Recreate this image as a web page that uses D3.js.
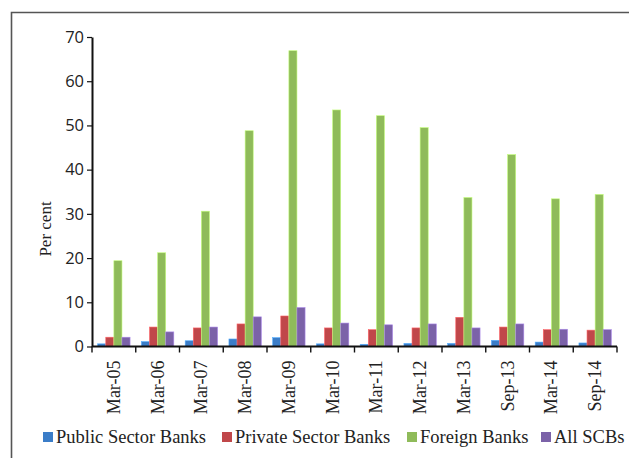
<!DOCTYPE html>
<html>
<head>
<meta charset="utf-8">
<script src="https://cdn.jsdelivr.net/npm/d3@7"></script>
<style>
  html, body { margin: 0; padding: 0; background: #fff; }
  svg { display: block; }
</style>
</head>
<body>
<svg id="chart" width="629" height="458"></svg>
<script>
// Gross NPA ratio by bank group (per cent)
const periods = ["Mar-05","Mar-06","Mar-07","Mar-08","Mar-09","Mar-10","Mar-11","Mar-12","Mar-13","Sep-13","Mar-14","Sep-14"];
const seriesNames = ["Public Sector Banks","Private Sector Banks","Foreign Banks","All SCBs"];
const publicSector  = [0.6, 1.1, 1.3, 1.7, 2.0, 0.6, 0.5, 0.7, 0.7, 1.4, 1.0, 0.8];
const privateSector = [2.1, 4.4, 4.2, 5.1, 6.9, 4.2, 3.8, 4.2, 6.6, 4.4, 3.8, 3.7];
const foreignBanks  = [19.4, 21.2, 30.6, 48.8, 66.9, 53.5, 52.2, 49.5, 33.7, 43.4, 33.4, 34.4];
const allSCBs       = [2.1, 3.3, 4.4, 6.7, 8.8, 5.3, 4.9, 5.1, 4.2, 5.1, 3.9, 3.8];
const yTicks = [0, 10, 20, 30, 40, 50, 60, 70];
const colors = ["#3b7dc8", "#c0474a", "#8fbb5a", "#7b62a8"];

const seriesValues = [publicSector, privateSector, foreignBanks, allSCBs];

const svg = d3.select("#chart");

// outer frame
svg.append("path")
  .attr("d", "M11.5,458 L11.5,12.5 L629,12.5")
  .attr("fill", "none")
  .attr("stroke", "#555")
  .attr("stroke-width", 1.6);

const plotLeft = 92, plotRight = 617, plotTop = 37, plotBottom = 346.5;

const x = d3.scaleBand().domain(periods).range([plotLeft, plotRight]).paddingInner(0.26).paddingOuter(0.13);
const xs = d3.scaleBand().domain(seriesNames).range([0, x.bandwidth()]);
const y = d3.scaleLinear().domain([0, 70]).range([plotBottom, plotTop]);

// bars
const groups = svg.append("g").selectAll("g")
  .data(periods)
  .join("g")
  .attr("transform", d => `translate(${x(d)},0)`);

groups.selectAll("rect")
  .data((p, i) => seriesNames.map((s, k) => ({ s, k, v: seriesValues[k][i] })))
  .join("rect")
  .attr("x", d => xs(d.s))
  .attr("width", xs.bandwidth())
  .attr("y", d => y(d.v))
  .attr("height", d => plotBottom - y(d.v))
  .attr("fill", d => colors[d.k])
  .attr("stroke", d => d3.color(colors[d.k]).brighter(0.9))
  .attr("stroke-width", 0.6);

// y axis
const yAxis = svg.append("g")
  .attr("transform", `translate(${plotLeft},0)`)
  .call(d3.axisLeft(y).tickValues(yTicks).tickSize(5).tickPadding(3).tickSizeOuter(0));
yAxis.select(".domain").attr("stroke", "#111").attr("stroke-width", 2);
yAxis.selectAll(".tick line").attr("stroke", "#111").attr("stroke-width", 1.2);
yAxis.selectAll(".tick text")
  .attr("font-family", "'Open Sans', sans-serif")
  .attr("font-size", 16.5)
  .attr("fill", "#222");

// x axis: ticks on category boundaries
const xAxisG = svg.append("g").attr("transform", `translate(0,${plotBottom})`);
xAxisG.append("line")
  .attr("x1", plotLeft).attr("x2", plotRight)
  .attr("stroke", "#111").attr("stroke-width", 2.2);
const boundaries = d3.range(periods.length + 1).map(i => plotLeft + i * (plotRight - plotLeft) / periods.length);
xAxisG.selectAll("line.tk")
  .data(boundaries)
  .join("line")
  .attr("class", "tk")
  .attr("x1", d => d).attr("x2", d => d)
  .attr("y1", 0).attr("y2", 6)
  .attr("stroke", "#111").attr("stroke-width", 1.4);
xAxisG.selectAll("text")
  .data(periods)
  .join("text")
  .attr("transform", d => `translate(${x(d) + x.bandwidth() / 2 + 6},14) rotate(-90)`)
  .attr("text-anchor", "end")
  .attr("font-family", "'Liberation Serif', serif")
  .attr("font-size", 18)
  .attr("fill", "#222")
  .text(d => d);

// y axis title
svg.append("text")
  .attr("transform", `translate(51,229) rotate(-90)`)
  .attr("text-anchor", "middle")
  .attr("font-family", "'Liberation Serif', serif")
  .attr("font-size", 17)
  .attr("fill", "#222")
  .text("Per cent");

// legend
const legendX = [43, 222, 407, 541];
const legend = svg.append("g").selectAll("g")
  .data(seriesNames)
  .join("g")
  .attr("transform", (d, i) => `translate(${legendX[i]},432)`);
legend.append("rect")
  .attr("width", 10).attr("height", 10)
  .attr("fill", (d, i) => colors[i]);
legend.append("text")
  .attr("x", 13).attr("y", 10.5)
  .attr("font-family", "'Liberation Serif', serif")
  .attr("font-size", 18.5)
  .attr("fill", "#222")
  .text(d => d);
</script>
</body>
</html>
